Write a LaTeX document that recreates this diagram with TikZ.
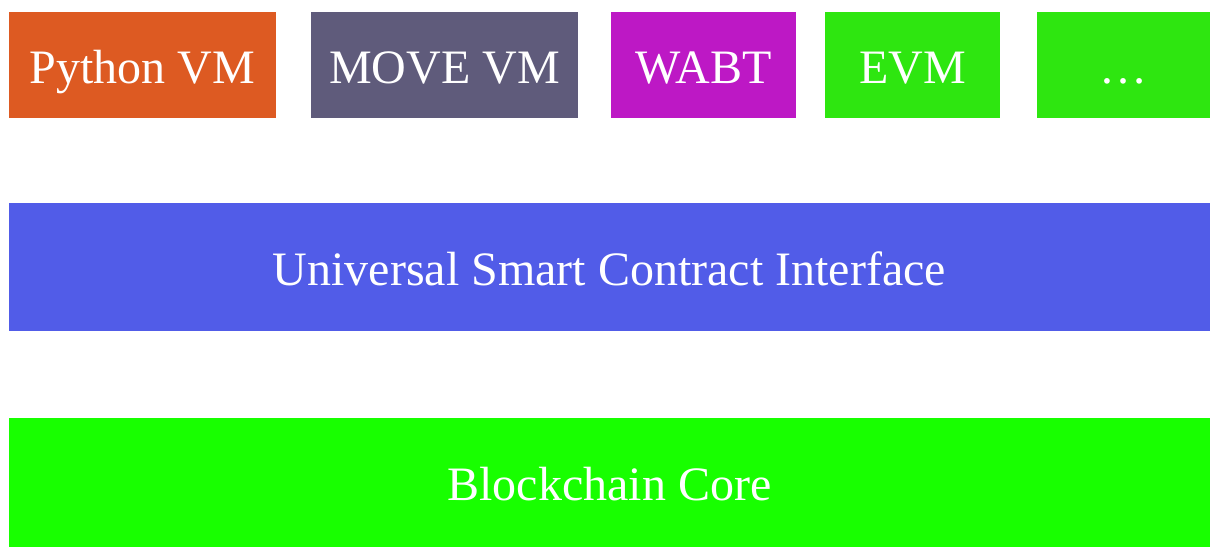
\documentclass[tikz,border=0pt]{standalone}
\usepackage{fontspec}
\setmainfont{Liberation Serif}
\definecolor{cpy}{HTML}{DD5A22}
\definecolor{cmove}{HTML}{5F5B7B}
\definecolor{cwabt}{HTML}{BD18C5}
\definecolor{cevm}{HTML}{2EE610}
\definecolor{cusci}{HTML}{515CE8}
\definecolor{ccore}{HTML}{18FF00}
\begin{document}
\begin{tikzpicture}[x=1pt,y=-1pt,
  blk/.style={rectangle, inner sep=0pt, text=white, font=\fontsize{48}{52}\selectfont,
    text height=36pt, text depth=0pt}]
\useasboundingbox (0,0) rectangle (1210,547);
\fill[white] (0,0) rectangle (1210,547);
\node[blk, fill=cpy, minimum width=267pt, minimum height=106pt] (py) at (142.5,65) {Python VM};
\node[blk, fill=cmove, minimum width=267pt, minimum height=106pt] (move) at (444.5,65) {MOVE VM};
\node[blk, fill=cwabt, minimum width=185pt, minimum height=106pt] (wabt) at (703.5,65) {WABT};
\node[blk, fill=cevm, minimum width=175pt, minimum height=106pt] (evm) at (912.5,65) {EVM};
\node[blk, fill=cevm, minimum width=173pt, minimum height=106pt] (more) at (1123.5,65) {\ldots};
\node[blk, fill=cusci, minimum width=1201pt, minimum height=128pt] (usci) at (609.5,267) {Universal Smart Contract Interface};
\node[blk, fill=ccore, minimum width=1201pt, minimum height=129pt] (core) at (609.5,482.5) {Blockchain Core};
\end{tikzpicture}
\end{document}
